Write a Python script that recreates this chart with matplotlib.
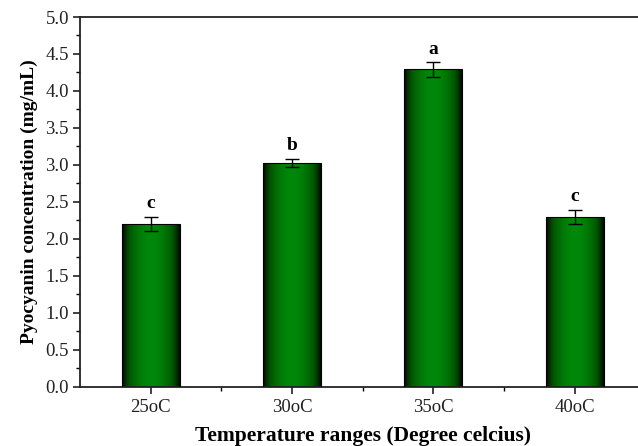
import numpy as np
import matplotlib
matplotlib.use("Agg")
import matplotlib.pyplot as plt
from matplotlib.ticker import MultipleLocator, FixedLocator
from matplotlib.colors import LinearSegmentedColormap

categories = ["25oC", "30oC", "35oC", "40oC"]
values = [2.20, 3.03, 4.29, 2.30]
errors = [0.10, 0.055, 0.10, 0.095]
letters = ["c", "b", "a", "c"]

plt.rcParams['font.family'] = ['Liberation Serif', 'DejaVu Serif']

fig = plt.figure(figsize=(6.38, 4.46), dpi=100)
ax = fig.add_axes([80/638, (446-386.7)/446, 565.2/638, 369.7/446])

x = np.arange(1, len(categories) + 1)
width = 0.41
bars = ax.bar(x, values, width=width, color='none', edgecolor='black', linewidth=0.8, zorder=3)

cmap = LinearSegmentedColormap.from_list('g', [(0, 0, 0), (0.0, 0.34, 0.0), (0.0, 0.53, 0.04)])
t = np.linspace(0, 1, 256)
prof = np.sin(np.pi * t) ** 0.75
grad = prof[np.newaxis, :]
for b in bars:
    x0, y0 = b.get_x(), b.get_y()
    w, h = b.get_width(), b.get_height()
    im = ax.imshow(grad, cmap=cmap, vmin=0, vmax=1, aspect='auto',
                   extent=[x0, x0 + w, y0, y0 + h], zorder=2, interpolation='bicubic')
    im.set_clip_path(b)

ax.errorbar(x, values, yerr=errors, fmt='none', ecolor='black', elinewidth=1.0,
            capsize=5, capthick=1.0, zorder=4)

for xi, v, e, l in zip(x, values, errors, letters):
    ax.text(xi, v + e + 0.06, l, ha='center', va='bottom', fontsize=14, fontweight='bold')

ax.set_xlim(0.5, 4.5)
ax.set_ylim(0, 5.0)
ax.set_xticks(x)
ax.set_xticklabels(categories)
ax.xaxis.set_minor_locator(FixedLocator([1.5, 2.5, 3.5]))
ax.yaxis.set_major_locator(MultipleLocator(0.5))
ax.yaxis.set_minor_locator(MultipleLocator(0.25))
ax.yaxis.set_major_formatter(matplotlib.ticker.FormatStrFormatter('%.1f'))

ax.tick_params(axis='both', which='major', direction='out', length=5, width=1.2, labelsize=13.5, colors='#222222')
ax.tick_params(axis='both', which='minor', direction='out', length=3, width=1.0)
ax.tick_params(axis='y', pad=3)
ax.tick_params(axis='x', pad=4)

for s in ['left', 'bottom', 'top', 'right']:
    ax.spines[s].set_linewidth(1.3)
    ax.spines[s].set_color('#222222')

ax.set_xlabel("Temperature ranges (Degree celcius)", fontsize=15.5, fontweight='bold', labelpad=7)
ax.set_ylabel("Pyocyanin concentration (mg/mL)", fontsize=14, fontweight='bold', labelpad=5)

fig.savefig("out.png", dpi=100)
